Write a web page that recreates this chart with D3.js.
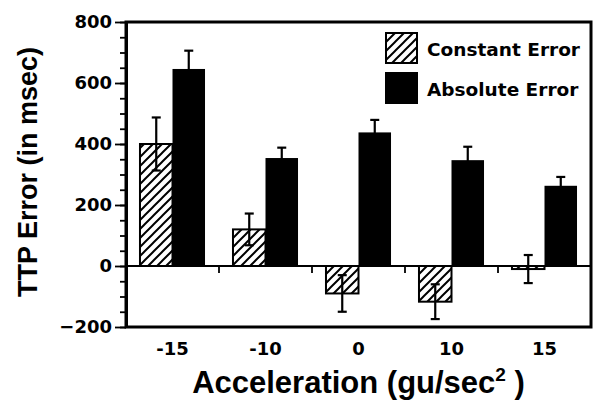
<!DOCTYPE html>
<html>
<head>
<meta charset="utf-8">
<script src="https://cdn.jsdelivr.net/npm/d3@7"></script>
</head>
<body style="margin:0">
<div id="chartDiv"></div>
<script>
  // data
  const accel = ["-15", "-10", "0", "10", "15"];
  const seriesNames = ["Constant Error", "Absolute Error"];
  const constantErr = [400, 120, -90, -117, -10];
  const constantSE = [87, 52, 60, 57, 46];
  const absoluteErr = [646, 354, 438, 347, 263];
  const absoluteSE = [60, 34, 41, 44, 29];
  const yMajor = [-200, 0, 200, 400, 600, 800];

  const margin = { top: 22, right: 4, bottom: 73, left: 126 },
      width = 595 - margin.left - margin.right,
      height = 400 - margin.top - margin.bottom;

  const labelFont = "'DejaVu Sans', sans-serif";
  const titleFont = "'Liberation Sans', Arial, sans-serif";

  const svg = d3.select("#chartDiv")
      .append("svg")
      .attr("width", 595)
      .attr("height", 400);

  const x0 = margin.left, x1 = margin.left + width,
      y0 = margin.top, y1 = margin.top + height;

  // hatch pattern for constant error
  svg.append("defs")
      .append("pattern")
      .attr("id", "hatch")
      .attr("patternUnits", "userSpaceOnUse")
      .attr("width", 9)
      .attr("height", 9)
      .append("path")
      .attr("d", "M-2,2 L2,-2 M0,9 L9,0 M7,11 L11,7")
      .attr("stroke", "black")
      .attr("stroke-width", 2);

  const x = d3.scaleBand()
      .domain(accel)
      .range([x0, x1])
      .padding(0);

  const xSub = d3.scaleBand()
      .domain(seriesNames)
      .range([0, x.bandwidth()])
      .paddingInner(0)
      .paddingOuter(0.43);

  const y = d3.scaleLinear()
      .domain([-200, 800])
      .range([y1, y0]);

  // y axis ticks: minor every 50, major every 200
  const yMin = svg.append("g")
      .attr("transform", "translate(" + x0 + ",0)")
      .call(d3.axisLeft(y).tickValues(d3.range(-200, 801, 50)).tickSize(6).tickSizeOuter(0).tickFormat(""));
  yMin.selectAll("line").attr("stroke-width", 1.8);
  yMin.select(".domain").attr("stroke-width", 3);

  const yAx = svg.append("g")
      .attr("transform", "translate(" + x0 + ",0)")
      .call(d3.axisLeft(y).tickValues(yMajor).tickSize(11).tickSizeOuter(0).tickPadding(3));
  yAx.selectAll("line").attr("stroke-width", 1.8);
  yAx.select(".domain").attr("stroke-width", 3);
  yAx.selectAll("text")
      .attr("font-size", 18)
      .attr("font-family", labelFont)
      .attr("font-weight", "bold")
      .attr("fill", "#000");

  // zero line
  svg.append("line")
      .attr("x1", x0).attr("x2", x1)
      .attr("y1", y(0)).attr("y2", y(0))
      .attr("stroke", "#000")
      .attr("stroke-width", 2);

  // group separator ticks below zero line
  svg.selectAll(".sep")
      .data(accel.slice(1))
      .enter()
      .append("line")
      .attr("class", "sep")
      .attr("x1", d => x(d)).attr("x2", d => x(d))
      .attr("y1", y(0)).attr("y2", y(0) + 7)
      .attr("stroke", "#000")
      .attr("stroke-width", 1.8);

  // x tick labels
  svg.selectAll(".xlab")
      .data(accel)
      .enter()
      .append("text")
      .attr("class", "xlab")
      .attr("x", d => x(d) + x.bandwidth() / 2)
      .attr("y", y1 + 28)
      .attr("text-anchor", "middle")
      .attr("font-family", labelFont)
      .attr("font-weight", "bold")
      .attr("font-size", 18)
      .text(d => d);

  // bars
  const groups = svg.selectAll(".grp")
      .data(accel)
      .enter()
      .append("g")
      .attr("class", "grp")
      .attr("transform", d => "translate(" + x(d) + ",0)");

  groups.append("rect")
      .attr("x", xSub(seriesNames[0]))
      .attr("width", xSub.bandwidth())
      .attr("y", (d, i) => y(Math.max(0, constantErr[i])))
      .attr("height", (d, i) => Math.abs(y(constantErr[i]) - y(0)))
      .attr("fill", "url(#hatch)")
      .attr("stroke", "#000")
      .attr("stroke-width", 2);

  groups.append("rect")
      .attr("x", xSub(seriesNames[1]))
      .attr("width", xSub.bandwidth())
      .attr("y", (d, i) => y(Math.max(0, absoluteErr[i])))
      .attr("height", (d, i) => Math.abs(y(absoluteErr[i]) - y(0)))
      .attr("fill", "#000");

  // error bars
  const errData = [];
  accel.forEach((a, i) => {
      errData.push({ a: a, s: seriesNames[0], v: constantErr[i], e: constantSE[i] });
      errData.push({ a: a, s: seriesNames[1], v: absoluteErr[i], e: absoluteSE[i] });
  });
  const eb = svg.selectAll(".err")
      .data(errData)
      .enter()
      .append("g")
      .attr("class", "err")
      .attr("transform", d => "translate(" + (x(d.a) + xSub(d.s) + xSub.bandwidth() / 2) + ",0)")
      .attr("stroke", "#000")
      .attr("stroke-width", 2.2);
  eb.append("line")
      .attr("x1", 0).attr("x2", 0)
      .attr("y1", d => y(d.v - d.e)).attr("y2", d => y(d.v + d.e));
  eb.append("line")
      .attr("x1", -4.5).attr("x2", 4.5)
      .attr("y1", d => y(d.v + d.e)).attr("y2", d => y(d.v + d.e));
  eb.append("line")
      .attr("x1", -4.5).attr("x2", 4.5)
      .attr("y1", d => y(d.v - d.e)).attr("y2", d => y(d.v - d.e));

  // legend
  const legend = svg.selectAll(".leg")
      .data(seriesNames)
      .enter()
      .append("g")
      .attr("class", "leg")
      .attr("transform", (d, i) => "translate(" + (x0 + 260) + "," + (y0 + 11 + i * 40) + ")");
  legend.append("rect")
      .attr("width", 31).attr("height", 30)
      .attr("fill", (d, i) => i === 0 ? "url(#hatch)" : "#000")
      .attr("stroke", "#000")
      .attr("stroke-width", 2);
  legend.append("text")
      .attr("x", 41)
      .attr("y", 23)
      .attr("font-family", labelFont)
      .attr("font-weight", "bold")
      .attr("font-size", 18.5)
      .text(d => d);

  // axis titles
  const xt = svg.append("text")
      .attr("x", x0 + width / 2)
      .attr("y", 393)
      .attr("text-anchor", "middle")
      .attr("font-family", titleFont)
      .attr("font-weight", "bold")
      .attr("font-size", 31);
  xt.append("tspan").text("Acceleration (gu/sec");
  xt.append("tspan").attr("dy", -12).attr("font-size", 19).text("2");
  xt.append("tspan").attr("dy", 12).text(" )");

  svg.append("text")
      .attr("transform", "translate(37,172) rotate(-90)")
      .attr("text-anchor", "middle")
      .attr("font-family", titleFont)
      .attr("font-weight", "bold")
      .attr("font-size", 27)
      .text("TTP Error (in msec)");

  // plot frame, drawn last and thick
  svg.append("rect")
      .attr("x", x0)
      .attr("y", y0)
      .attr("width", width)
      .attr("height", height)
      .attr("fill", "none")
      .attr("stroke", "black")
      .attr("stroke-width", 3);
</script>
</body>
</html>
